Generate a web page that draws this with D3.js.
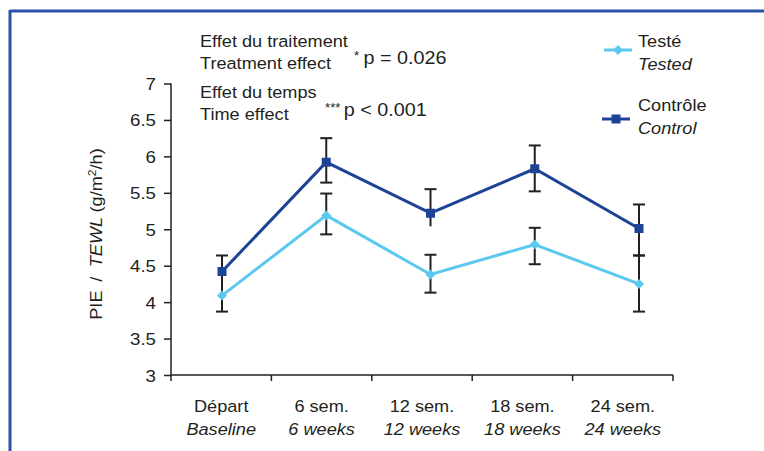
<!DOCTYPE html>
<html><head><meta charset="utf-8">
<script src="https://cdn.jsdelivr.net/npm/d3@7"></script>
<style>body{margin:0;background:#fff}svg{display:block}text{font-family:"Liberation Sans",Arial,sans-serif;fill:#231f20}</style>
</head><body>
<svg id="c" width="764" height="451"></svg>
<script>
const categoriesFr = ["Départ","6 sem.","12 sem.","18 sem.","24 sem."];
const categoriesEn = ["Baseline","6 weeks","12 weeks","18 weeks","24 weeks"];
const yTicks = [3,3.5,4,4.5,5,5.5,6,6.5,7];
const testedValues  = [4.09, 5.19, 4.38, 4.79, 4.25];
const testedErrHi   = [0.22, 0.30, 0.27, 0.23, 0.39];
const testedErrLo   = [0.22, 0.26, 0.25, 0.27, 0.38];
const testedCapHi   = [false, true, true, true, true];
const testedCapLo   = [true, true, true, true, true];
const controlValues = [4.42, 5.92, 5.22, 5.83, 5.01];
const controlErrHi  = [0.22, 0.33, 0.33, 0.32, 0.33];
const controlErrLo  = [0.22, 0.28, 0.18, 0.31, 0.37];
const controlCapHi  = [true, true, true, true, true];
const controlCapLo  = [false, true, false, true, true];

const svg = d3.select("#c");
const ink = "#231f20";
const light = "#5bc8ee", dark = "#1d4396";
const SX = 1.1, FS = "16.5px";

function txt(g, x, y, s, anchor, italic){
  const t = g.append("text").attr("transform",`translate(${x},${y}) scale(${SX},1)`)
    .attr("text-anchor",anchor||"start").style("font-size",FS);
  if(italic) t.style("font-style","italic");
  if(s!=null) t.text(s);
  return t;
}

// frame
svg.append("line").attr("x1",10).attr("x2",764).attr("y1",11).attr("y2",11).attr("stroke","#2a52a8").attr("stroke-width",3);
svg.append("line").attr("x1",10).attr("x2",10).attr("y1",10).attr("y2",451).attr("stroke","#2a52a8").attr("stroke-width",3);

const y = d3.scaleLinear().domain([3,7]).range([375,83.5]);
const xb = d3.scaleBand().domain(categoriesFr).range([171,673]);
const xp = d3.scalePoint().domain(categoriesFr).range([222,639]);

// y axis
const ya = svg.append("g").attr("transform","translate(171,0)")
  .call(d3.axisLeft(y).tickValues(yTicks).tickSize(7).tickPadding(8).tickFormat(d3.format("")));
ya.select(".domain").attr("d","M0,83.5V381").attr("stroke",ink).attr("stroke-width",1.5);
ya.selectAll(".tick line").attr("stroke",ink).attr("stroke-width",1.5);
ya.selectAll(".tick text").each(function(){
  const t = d3.select(this);
  const xx = +t.attr("x"); 
  t.attr("x",null).attr("dy",null).attr("transform",`translate(${xx},6) scale(${SX},1)`)
   .style("font-size","17px").attr("fill",ink);
});

// x axis
const xa = svg.append("g").attr("transform","translate(0,375)");
xa.append("line").attr("x1",171).attr("x2",673).attr("stroke",ink).attr("stroke-width",1.5);
const bounds = categoriesFr.map(c=>xb(c)).concat([xb.range()[1]]).slice(1);
xa.selectAll("line.t").data(bounds).join("line").attr("class","t")
  .attr("x1",d=>d).attr("x2",d=>d).attr("y1",0).attr("y2",6).attr("stroke",ink).attr("stroke-width",1.5);
const lbl = svg.append("g");
categoriesFr.forEach((c,i)=>{
  const cx = xb(c)+xb.bandwidth()/2;
  txt(lbl, cx, 412, c, "middle");
  txt(lbl, cx, 435, categoriesEn[i], "middle", true);
});

// y title
const yt = svg.append("text").attr("transform","translate(102,234) rotate(-90) scale(1.1,1)").attr("text-anchor","middle").style("font-size","16.5px");
yt.append("tspan").text("PIE");
yt.append("tspan").attr("dx",8).text("/ ");
yt.append("tspan").attr("dx",4).style("font-style","italic").text("TEWL");
yt.append("tspan").attr("dx",4).text("(g/m");
yt.append("tspan").attr("dy",-6).style("font-size","11px").text("2");
yt.append("tspan").attr("dy",6).text("/h)");

// error bars
function errBars(vals, hi, lo, capHi, capLo){
  const g = svg.append("g").attr("stroke",ink).attr("stroke-width",2);
  vals.forEach((v,i)=>{
    const cx = xp(categoriesFr[i]);
    g.append("line").attr("x1",cx).attr("x2",cx).attr("y1",y(v+hi[i])).attr("y2",y(v-lo[i]));
    if(capHi[i]) g.append("line").attr("x1",cx-6).attr("x2",cx+6).attr("y1",y(v+hi[i])).attr("y2",y(v+hi[i]));
    if(capLo[i]) g.append("line").attr("x1",cx-6).attr("x2",cx+6).attr("y1",y(v-lo[i])).attr("y2",y(v-lo[i]));
  });
}
errBars(controlValues, controlErrHi, controlErrLo, controlCapHi, controlCapLo);
errBars(testedValues, testedErrHi, testedErrLo, testedCapHi, testedCapLo);

const line = d3.line().x((d,i)=>xp(categoriesFr[i])).y(d=>y(d));
svg.append("path").datum(testedValues).attr("d",line).attr("fill","none").attr("stroke",light).attr("stroke-width",3);
svg.append("path").datum(controlValues).attr("d",line).attr("fill","none").attr("stroke",dark).attr("stroke-width",3);

const diamond = d3.symbol().type(d3.symbolDiamond2).size(64);
svg.append("g").selectAll("path").data(testedValues).join("path")
  .attr("transform",(d,i)=>`translate(${xp(categoriesFr[i])},${y(d)})`).attr("d",diamond).attr("fill",light);
svg.append("g").selectAll("rect").data(controlValues).join("rect")
  .attr("x",(d,i)=>xp(categoriesFr[i])-4.5).attr("y",d=>y(d)-4.5).attr("width",9).attr("height",9).attr("fill",dark);

// annotations
const ann = svg.append("g");
txt(ann, 200, 47, "Effet du traitement");
txt(ann, 200, 69, "Treatment effect");
const a1 = txt(ann, 354, 64);
a1.append("tspan").style("font-size","12px").attr("dy",-4).text("*");
a1.append("tspan").attr("dy",4).attr("dx",4).style("font-size","18px").text("p = 0.026");
txt(ann, 200, 98, "Effet du temps");
txt(ann, 200, 120, "Time effect");
const a2 = txt(ann, 325, 116);
a2.append("tspan").style("font-size","12px").attr("dy",-4).text("***");
a2.append("tspan").attr("dy",4).attr("dx",3).style("font-size","18px").text("p < 0.001");

// legend
const lg = svg.append("g");
lg.append("line").attr("x1",604).attr("x2",632).attr("y1",50).attr("y2",50).attr("stroke",light).attr("stroke-width",3);
lg.append("path").attr("transform","translate(618,50)").attr("d",diamond).attr("fill",light);
txt(lg, 638, 47, "Testé");
txt(lg, 638, 70, "Tested", "start", true);
lg.append("line").attr("x1",602).attr("x2",630).attr("y1",119).attr("y2",119).attr("stroke",dark).attr("stroke-width",3);
lg.append("rect").attr("x",611.5).attr("y",114.5).attr("width",9).attr("height",9).attr("fill",dark);
txt(lg, 638, 111, "Contrôle");
txt(lg, 638, 134, "Control", "start", true);
</script>
</body></html>
